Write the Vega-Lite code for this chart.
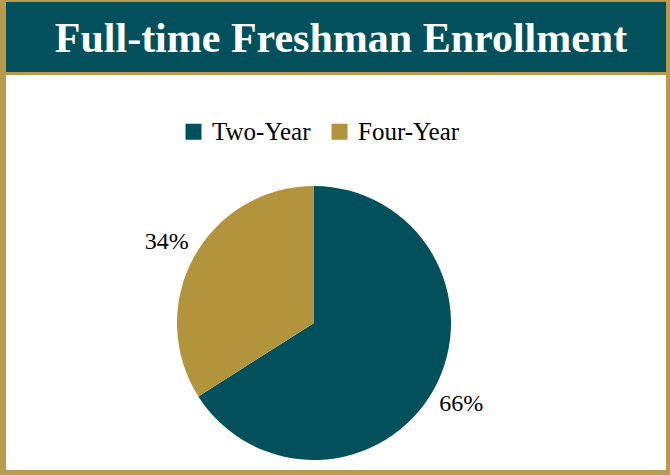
{
  "$schema": "https://vega.github.io/schema/vega-lite/v6.json",
  "background": "#B89B4C",
  "padding": {"left": 6, "top": 2, "right": 4, "bottom": 5},
  "autosize": {"type": "pad"},
  "config": {"view": {"stroke": null}, "font": "Liberation Serif"},
  "spacing": 3,
  "bounds": "flush",
  "resolve": {"scale": {"color": "independent"}, "legend": {"color": "independent"}},
  "vconcat": [
    {
      "width": 660,
      "height": 70,
      "view": {"fill": "#01505B", "stroke": null},
      "data": {"values": [{"title": "Full-time Freshman Enrollment"}]},
      "mark": {"type": "text", "font": "Liberation Serif", "fontWeight": "bold", "fontSize": 42, "color": "white", "baseline": "middle", "align": "center", "dy": 2, "dx": 5},
      "encoding": {"text": {"field": "title", "type": "nominal"}}
    },
    {
      "spacing": 0,
      "bounds": "flush",
      "resolve": {"scale": {"color": "independent"}, "legend": {"color": "independent"}},
      "vconcat": [
        {
          "width": 660,
          "height": 101,
          "view": {"fill": "white", "stroke": null},
          "data": {"values": [{}]},
          "mark": {"type": "point", "opacity": 0}
        },
        {
          "spacing": 0,
          "bounds": "flush",
          "resolve": {"scale": {"color": "independent"}, "legend": {"color": "independent"}},
          "hconcat": [
            {
              "width": 616,
              "height": 294,
              "view": {"fill": "white", "stroke": null},
              "data": {"values": [
                {"type": "Two-Year", "share": 0.66},
                {"type": "Four-Year", "share": 0.34}
              ]},
              "encoding": {
                "theta": {"field": "share", "type": "quantitative", "stack": true},
                "order": {"field": "share", "type": "quantitative", "sort": "descending"},
                "color": {
                  "field": "type",
                  "type": "nominal",
                  "scale": {"domain": ["Two-Year", "Four-Year"], "range": ["#01505B", "#B1943B"]},
                  "legend": {
                    "orient": "none",
                    "legendX": 175,
                    "legendY": -57,
                    "direction": "horizontal",
                    "title": null,
                    "symbolType": "square",
                    "symbolSize": 256,
                    "symbolStrokeWidth": 0,
                    "symbolOpacity": 1,
                    "labelFont": "Liberation Serif",
                    "labelFontSize": 25,
                    "labelColor": "black",
                    "labelOffset": 6,
                    "columnPadding": 16
                  }
                }
              },
              "layer": [
                {"mark": {"type": "arc", "radius": 137}},
                {
                  "mark": {"type": "text", "radius": 168, "fontSize": 24, "font": "Liberation Serif"},
                  "encoding": {
                    "text": {"field": "share", "type": "quantitative", "format": ".0%"},
                    "color": {"value": "black"},
                    "detail": {"field": "type", "type": "nominal"}
                  }
                }
              ]
            },
            {
              "width": 44,
              "height": 294,
              "view": {"fill": "white", "stroke": null},
              "data": {"values": [{}]},
              "mark": {"type": "point", "opacity": 0}
            }
          ]
        }
      ]
    }
  ]
}
